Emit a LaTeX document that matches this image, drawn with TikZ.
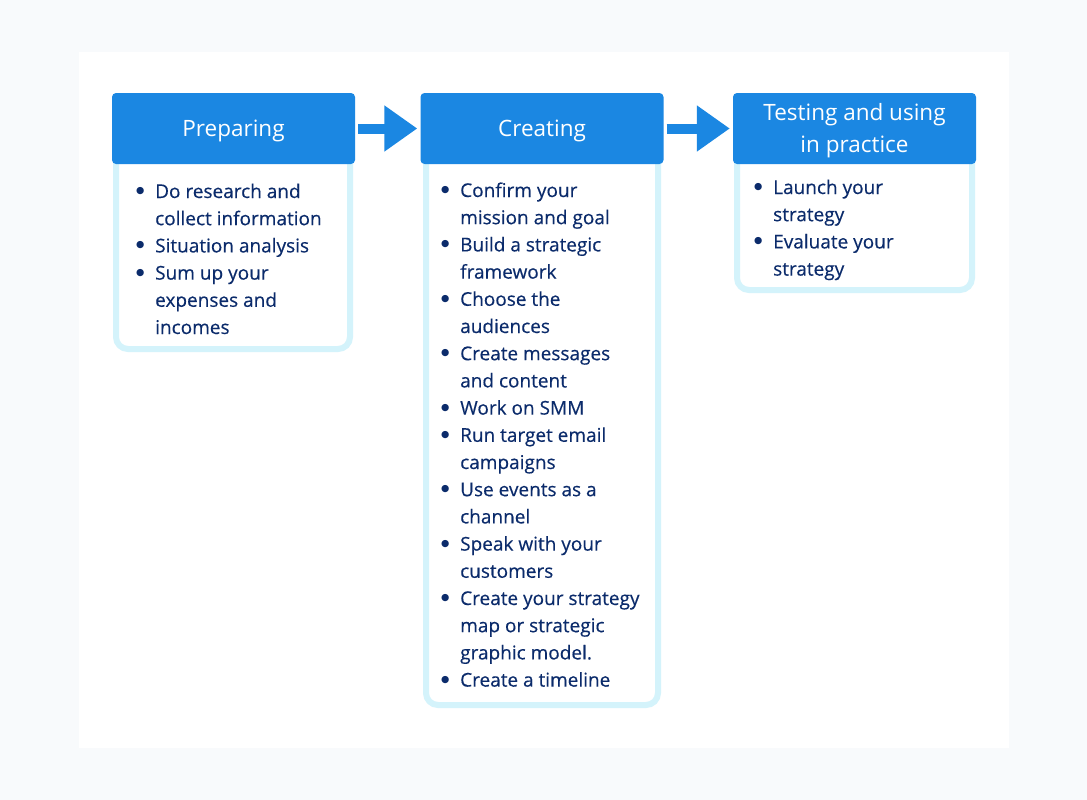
\documentclass[tikz,border=0pt]{standalone}
\usepackage{fontspec}
\setmainfont{Open Sans}
\newfontfamily\symf{DejaVu Sans}
\usetikzlibrary{arrows.meta}
\definecolor{hdrblue}{HTML}{1B87E2}
\definecolor{bodyedge}{HTML}{D4F3FB}
\definecolor{navy}{HTML}{0B2B6B}
\definecolor{outerbg}{HTML}{F8FAFC}
\newcommand\bitem[1]{\par\hangindent=20pt\hangafter=1\noindent\makebox[20pt][l]{\hspace{1pt}\raisebox{4.5pt}{\symf\fontsize{9.5}{0}\selectfont ●}}#1}
\newcommand\blist[2]{\begin{minipage}[t]{#1}\fontsize{19}{27.2}\selectfont\addfontfeatures{FakeBold=0.35} #2\end{minipage}}
\begin{document}
\begin{tikzpicture}[x=1pt,y=-1pt,
  header/.style={fill=hdrblue, rounded corners=4pt,
    minimum width=243pt, minimum height=71pt, inner sep=0pt},
  headtext/.style={text=white, font=\fontsize{22.5}{32}\selectfont,
    align=center, inner sep=0pt},
  bodyframe/.style={draw=bodyedge, line width=6pt, fill=white, rounded corners=12pt},
  listtext/.style={text=navy, inner sep=0pt, anchor=base west},
  flow/.style={draw=hdrblue, line width=10pt,
    -{Triangle[length=33pt,width=44pt]}, shorten <=3pt, shorten >=3pt}]
\useasboundingbox (0,0) rectangle (1087,800);
\fill[outerbg] (0,0) rectangle (1087,800);
\fill[white] (79,52) rectangle (1009,748);
% bodies
\draw[bodyframe] (116,150) -- (116,349) -- (350,349) -- (350,150);
\draw[bodyframe] (426,150) -- (426,705) -- (658,705) -- (658,150);
\draw[bodyframe] (737,150) -- (737,290) -- (972,290) -- (972,150);
% headers
\node[header] (h1) at (233.5,128.5) {};
\node[header] (h2) at (542,128.5) {};
\node[header] (h3) at (854.5,128.5) {};
\node[headtext, anchor=base] (t1) at (233.5,136.5) {Preparing};
\node[headtext, anchor=base] (t2) at (542,136.5) {Creating};
\node[headtext, anchor=base] (t3) at (854.5,152.5) {Testing and using\\in practice};
% arrows
\draw[flow] (h1) -- (h2);
\draw[flow] (h2) -- (h3);
% lists
\node[listtext] (l1) at (135,198) {\blist{215pt}{%
\bitem{Do research and\\collect information}
\bitem{Situation analysis}
\bitem{Sum up your\\expenses and\\incomes}}};
\node[listtext] (l2) at (440,197) {\blist{215pt}{%
\bitem{Confirm your\\mission and goal}
\bitem{Build a strategic\\framework}
\bitem{Choose the\\audiences}
\bitem{Create messages\\and content}
\bitem{Work on SMM}
\bitem{Run target email\\campaigns}
\bitem{Use events as a\\channel}
\bitem{Speak with your\\customers}
\bitem{Create your strategy\\map or strategic\\graphic model.}
\bitem{Create a timeline}}};
\node[listtext] (l3) at (753,194) {\blist{215pt}{%
\bitem{Launch your\\strategy}
\bitem{Evaluate your\\strategy}}};
\end{tikzpicture}
\end{document}
